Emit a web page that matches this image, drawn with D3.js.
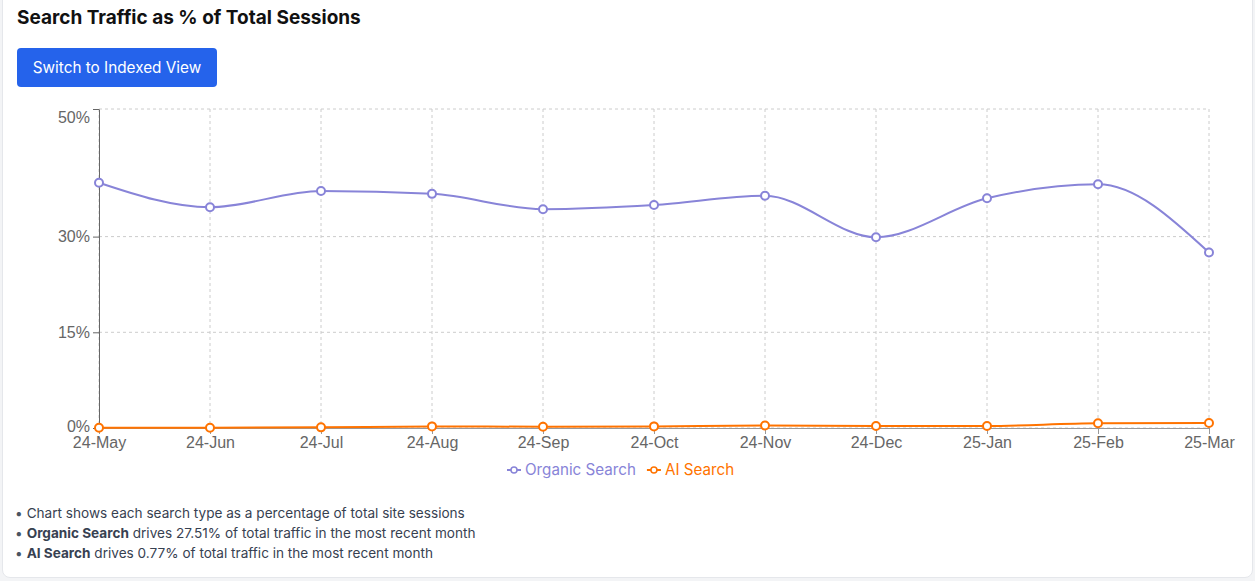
<!DOCTYPE html>
<html>
<head>
<meta charset="utf-8">
<script src="https://cdn.jsdelivr.net/npm/d3@7"></script>
<style>
  body { margin: 0; background: #f3f4f6; font-family: Inter, "Liberation Sans", Arial, sans-serif; }
  #card {
    position: absolute; left: 2px; top: -12px; width: 1249px; height: 588px;
    background: #fff; border: 1px solid #e5e7eb; border-radius: 8px;
  }
  h2 { position: absolute; left: 14px; top: 17px; margin: 0; font-size: 19px; font-weight: 700; color: #111; }
  button {
    position: absolute; left: 14px; top: 59px; width: 200px; height: 39px;
    background: #2563eb; color: #fff; border: none; border-radius: 4px;
    font-family: inherit; font-size: 15.3px;
  }
  #wrapper { position: absolute; left: -2px; top: 107px; }
  ul { position: absolute; left: 12px; top: 514px; margin: 0; padding: 0; list-style: none;
       font-size: 13.6px; color: #374151; line-height: 20px; }
  ul li::before { content: "\2022"; margin-right: 4px; color: #4b5563; }
</style>
</head>
<body>
<div id="card">
  <h2>Search Traffic as % of Total Sessions</h2>
  <button>Switch to Indexed View</button>
  <div id="wrapper"></div>
  <ul>
    <li>Chart shows each search type as a percentage of total site sessions</li>
    <li><b>Organic Search</b> drives 27.51% of total traffic in the most recent month</li>
    <li><b>AI Search</b> drives 0.77% of total traffic in the most recent month</li>
  </ul>
</div>
<script>
const months = ['24-May', '24-Jun', '24-Jul', '24-Aug', '24-Sep', '24-Oct', '24-Nov', '24-Dec', '25-Jan', '25-Feb', '25-Mar']
const organicSearch = [38.45, 34.6, 37.15, 36.7, 34.3, 34.95, 36.4, 29.9, 36.0, 38.2, 27.51]
const aiSearch = [0.05, 0.05, 0.1, 0.25, 0.2, 0.25, 0.4, 0.3, 0.3, 0.75, 0.77]
const yTicks = [0, 15, 30, 50]

const series = [
    { name: 'Organic Search', values: organicSearch, color: '#8884d8' },
    { name: 'AI Search', values: aiSearch, color: '#ff7300' }
]

const dimensions = {
    width: 1255,
    height: 400,
    margins: { top: 13, right: 47, bottom: 68, left: 98 }
}
dimensions.boundedWidth = dimensions.width - dimensions.margins.left - dimensions.margins.right
dimensions.boundedHeight = dimensions.height - dimensions.margins.top - dimensions.margins.bottom

const wrapper = d3.select('#wrapper')
    .append('svg')
    .attr('width', dimensions.width)
    .attr('height', dimensions.height)
    .style('font-family', 'Inter, "Liberation Sans", Arial, sans-serif')

const bounds = wrapper.append('g')
    .attr('transform', `translate(${dimensions.margins.left}, ${dimensions.margins.top})`)

const xScale = d3.scalePoint()
    .domain(months)
    .range([0, dimensions.boundedWidth])

const yScale = d3.scaleLinear()
    .domain([0, 50])
    .range([dimensions.boundedHeight, 0])

// grid
const grid = bounds.append('g')
    .attr('stroke', '#ccc')
    .attr('stroke-dasharray', '3 3')
grid.selectAll('.h').data(yTicks).join('line')
    .attr('x1', 0).attr('x2', dimensions.boundedWidth)
    .attr('y1', d => yScale(d)).attr('y2', d => yScale(d))
grid.selectAll('.v').data(months).join('line')
    .attr('x1', d => xScale(d)).attr('x2', d => xScale(d))
    .attr('y1', 0).attr('y2', dimensions.boundedHeight)

// axes
const yAxisGenerator = d3.axisLeft(yScale)
    .tickValues(yTicks)
    .tickFormat(d => d + '%')
    .tickSize(6)
    .tickSizeOuter(0)
const yAxis = bounds.append('g').call(yAxisGenerator)
yAxis.select('.domain').attr('stroke', '#666')
yAxis.selectAll('.tick line').attr('stroke', '#666')
yAxis.selectAll('.tick text')
    .attr('fill', '#666')
    .style('font-size', '16px')
    .attr('x', -9)
    .attr('dy', d => d === 50 ? '0.85em' : d === 0 ? '0.2em' : '0.32em')

const xAxisGenerator = d3.axisBottom(xScale).tickSize(6).tickSizeOuter(0)
const xAxis = bounds.append('g')
    .attr('transform', `translate(0, ${dimensions.boundedHeight})`)
    .call(xAxisGenerator)
xAxis.select('.domain').attr('stroke', '#999')
xAxis.selectAll('.tick line').attr('stroke', '#999')
xAxis.selectAll('.tick text')
    .attr('fill', '#666')
    .style('font-size', '16px')
    .attr('y', 9)
    .attr('dy', '0.71em')

// lines
const lineGenerator = d3.line()
    .x((d, i) => xScale(months[i]))
    .y(d => yScale(d))
    .curve(d3.curveMonotoneX)

const seriesGroups = bounds.selectAll('.series').data(series).join('g')
seriesGroups.append('path')
    .attr('d', d => lineGenerator(d.values))
    .attr('fill', 'none')
    .attr('stroke', d => d.color)
    .attr('stroke-width', 2)
seriesGroups.each(function (s) {
    d3.select(this).selectAll('circle').data(s.values).join('circle')
        .attr('cx', (d, i) => xScale(months[i]))
        .attr('cy', d => yScale(d))
        .attr('r', 4)
        .attr('fill', '#fff')
        .attr('stroke', s.color)
        .attr('stroke-width', 2)
})

// legend
const legend = wrapper.append('g')
    .attr('transform', `translate(0, ${dimensions.height - 26})`)
let lx = 506
series.forEach((s, i) => {
    const item = legend.append('g').attr('transform', `translate(${lx}, 0)`)
    item.append('line').attr('x1', 0).attr('x2', 14).attr('stroke', s.color).attr('stroke-width', 2)
    item.append('circle').attr('cx', 7).attr('r', 3).attr('fill', '#fff').attr('stroke', s.color).attr('stroke-width', 1.5)
    const t = item.append('text')
        .attr('x', 18)
        .attr('dy', '0.35em')
        .attr('fill', s.color)
        .style('font-size', '15.2px')
        .text(s.name)
    lx += 18 + t.node().getComputedTextLength() + 11
})
</script>
</body>
</html>
